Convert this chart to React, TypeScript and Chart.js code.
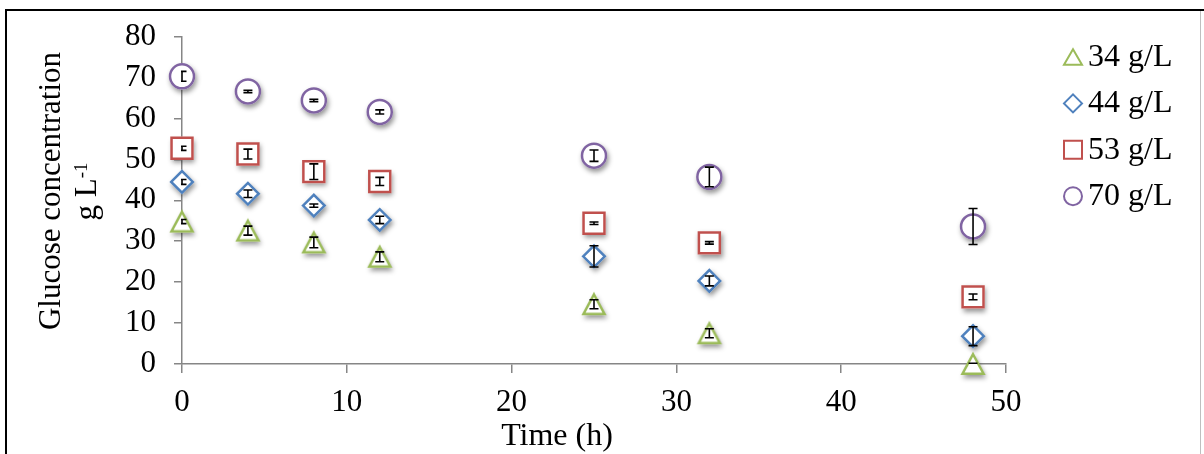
import React, { useEffect, useRef } from 'react';
import { Chart, registerables } from 'chart.js';

Chart.register(...registerables);

// ---- data ----
const times = [0, 4, 8, 12, 25, 32, 48];
const g34 = [34.8, 32.6, 29.7, 26.2, 14.6, 7.5, 0.0];
const g34Err = [0.5, 1.1, 1.3, 1.2, 1.1, 1.1, 0.2];
const g44 = [44.5, 41.6, 38.7, 35.2, 26.3, 20.3, 6.8];
const g44Err = [0.6, 0.9, 0.4, 0.9, 2.6, 1.2, 2.3];
const g53 = [52.7, 51.3, 47.0, 44.6, 34.4, 29.6, 16.4];
const g53Err = [0.5, 1.2, 1.9, 1.0, 0.3, 0.3, 0.7];
const g70 = [70.3, 66.6, 64.4, 61.6, 50.9, 45.7, 33.6];
const g70Err = [1.2, 0.3, 0.3, 0.5, 1.4, 2.4, 4.4];

const seriesLabels = ['34 g/L', '44 g/L', '53 g/L', '70 g/L'];
const seriesValues = [g34, g44, g53, g70];
const seriesErrors = [g34Err, g44Err, g53Err, g70Err];
const seriesColors = ['#9BBB59', '#4F81BD', '#C0504D', '#8064A2'];
const seriesShapes = ['triangle', 'rectRot', 'rect', 'circle'];

const xMin = 0;
const xMax = 50;
const xStep = 10;
const yMin = 0;
const yMax = 80;
const yStep = 10;

const yTitleLine1 = 'Glucose concentration';
const yTitleUnit = 'g L';
const yTitleSup = '-1';
const xTitle = 'Time (h)';

const FONT = '"Liberation Serif", "Times New Roman", serif';
const FONT_SIZE = 31;
const TITLE_SIZE = 32;
const LEGEND_SIZE = 32;
const AXIS_COLOR = '#868686';

const TRI_W = 21;
const TRI_H = 19.5;
const MARKER_LW = 2.5;

function makeTriangle(color: string, w: number, h: number, lw: number): HTMLCanvasElement {
  const c = document.createElement('canvas');
  const size = 2 * Math.ceil((Math.max(w, h) + lw * 3) / 2);
  c.width = size;
  c.height = size;
  const ctx = c.getContext('2d')!;
  const cx = size / 2;
  const cy = size / 2;
  ctx.beginPath();
  ctx.moveTo(cx, cy - h / 2);
  ctx.lineTo(cx + w / 2, cy + h / 2);
  ctx.lineTo(cx - w / 2, cy + h / 2);
  ctx.closePath();
  ctx.strokeStyle = color;
  ctx.lineWidth = lw;
  ctx.lineJoin = 'miter';
  ctx.stroke();
  return c;
}

function markerPath(ctx: CanvasRenderingContext2D, shape: string, x: number, y: number, r: number, grow: number) {
  ctx.beginPath();
  if (shape === 'triangle') {
    const w = TRI_W + grow * 2.2;
    const h = TRI_H + grow * 2;
    ctx.moveTo(x, y - h / 2);
    ctx.lineTo(x + w / 2, y + h / 2);
    ctx.lineTo(x - w / 2, y + h / 2);
    ctx.closePath();
  } else if (shape === 'rectRot') {
    const rr = r + grow * 1.4;
    ctx.moveTo(x - rr, y);
    ctx.lineTo(x, y - rr);
    ctx.lineTo(x + rr, y);
    ctx.lineTo(x, y + rr);
    ctx.closePath();
  } else if (shape === 'rect') {
    const s = r * Math.SQRT1_2 + grow;
    ctx.rect(x - s, y - s, 2 * s, 2 * s);
  } else {
    ctx.arc(x, y, r + grow, 0, Math.PI * 2);
  }
}

const framePlugin = {
  id: 'frame',
  beforeDraw(chart: any) {
    const ctx = chart.ctx;
    ctx.save();
    ctx.fillStyle = '#ffffff';
    ctx.fillRect(0, 0, chart.width, chart.height);
    ctx.restore();
  },
  afterDraw(chart: any) {
    const ctx = chart.ctx;
    ctx.save();
    ctx.strokeStyle = '#BFBFBF';
    ctx.lineWidth = 1;
    ctx.beginPath();
    ctx.moveTo(1200.5, 10);
    ctx.lineTo(1200.5, chart.height);
    ctx.stroke();
    ctx.strokeStyle = '#000000';
    ctx.lineWidth = 2;
    ctx.beginPath();
    ctx.moveTo(6, 9);
    ctx.lineTo(6, chart.height);
    ctx.moveTo(5, 10);
    ctx.lineTo(chart.width, 10);
    ctx.stroke();
    ctx.restore();
  },
};

// soft drop shadow under each marker, placed at the element positions computed by Chart.js
const shadowPlugin = {
  id: 'markerShadow',
  beforeDatasetsDraw(chart: any) {
    const ctx: CanvasRenderingContext2D = chart.ctx;
    ctx.save();
    ctx.shadowColor = 'rgba(0,0,0,0.42)';
    ctx.shadowBlur = 5;
    ctx.shadowOffsetX = 1.5;
    ctx.shadowOffsetY = 3;
    ctx.fillStyle = '#ffffff';
    chart.data.datasets.forEach((ds: any, di: number) => {
      const meta = chart.getDatasetMeta(di);
      meta.data.forEach((el: any) => {
        markerPath(ctx, seriesShapes[di], el.x, el.y, ds.pointRadius, MARKER_LW / 2);
        ctx.fill();
      });
    });
    ctx.restore();
  },
};

const errorBarPlugin = {
  id: 'errorBars',
  afterDatasetsDraw(chart: any) {
    const { ctx, chartArea } = chart;
    const xs = chart.scales.x;
    const ys = chart.scales.y;
    ctx.save();
    ctx.beginPath();
    ctx.rect(chartArea.left - 1, chartArea.top, chartArea.right - chartArea.left + 1, chartArea.bottom - chartArea.top);
    ctx.clip();
    ctx.strokeStyle = '#000000';
    ctx.lineWidth = 1.6;
    const cap = 4.5;
    seriesValues.forEach((vals, si) => {
      const errs = seriesErrors[si];
      vals.forEach((v, i) => {
        const px = xs.getPixelForValue(times[i]);
        const top = ys.getPixelForValue(v + errs[i]);
        const bot = ys.getPixelForValue(v - errs[i]);
        ctx.beginPath();
        ctx.moveTo(px, top);
        ctx.lineTo(px, bot);
        ctx.moveTo(px - cap, top);
        ctx.lineTo(px + cap, top);
        ctx.moveTo(px - cap, bot);
        ctx.lineTo(px + cap, bot);
        ctx.stroke();
      });
    });
    ctx.restore();
  },
};

function drawLegendMarker(ctx: CanvasRenderingContext2D, shape: string, color: string, x: number, y: number) {
  ctx.save();
  ctx.strokeStyle = color;
  ctx.lineWidth = 2;
  ctx.lineJoin = 'miter';
  ctx.beginPath();
  if (shape === 'triangle') {
    const w = 18;
    const h = 15.5;
    ctx.moveTo(x, y - h / 2);
    ctx.lineTo(x + w / 2, y + h / 2);
    ctx.lineTo(x - w / 2, y + h / 2);
    ctx.closePath();
  } else if (shape === 'rectRot') {
    const r = 9;
    ctx.moveTo(x - r, y);
    ctx.lineTo(x, y - r);
    ctx.lineTo(x + r, y);
    ctx.lineTo(x, y + r);
    ctx.closePath();
  } else if (shape === 'rect') {
    ctx.rect(x - 9, y - 9, 18, 18);
  } else {
    ctx.arc(x, y, 9, 0, Math.PI * 2);
  }
  ctx.stroke();
  ctx.restore();
}

const textPlugin = {
  id: 'texts',
  afterDraw(chart: any) {
    const ctx: CanvasRenderingContext2D = chart.ctx;
    ctx.save();
    ctx.fillStyle = '#000000';
    // y-axis title (rotated, two lines)
    ctx.save();
    ctx.translate(60, 191);
    ctx.rotate(-Math.PI / 2);
    ctx.font = `${FONT_SIZE}px ${FONT}`;
    ctx.textAlign = 'center';
    ctx.textBaseline = 'alphabetic';
    ctx.fillText(yTitleLine1, 0, 0);
    ctx.restore();

    ctx.save();
    ctx.translate(96, 191.5);
    ctx.rotate(-Math.PI / 2);
    ctx.textAlign = 'left';
    ctx.textBaseline = 'alphabetic';
    ctx.font = `${FONT_SIZE}px ${FONT}`;
    const wMain = ctx.measureText(yTitleUnit).width;
    ctx.font = `19px ${FONT}`;
    const wSup = ctx.measureText(yTitleSup).width;
    const start = -(wMain + wSup) / 2;
    ctx.font = `${FONT_SIZE}px ${FONT}`;
    ctx.fillText(yTitleUnit, start, 0);
    ctx.font = `19px ${FONT}`;
    ctx.fillText(yTitleSup, start + wMain, -9);
    ctx.restore();

    // x-axis title
    ctx.font = `${TITLE_SIZE}px ${FONT}`;
    ctx.textAlign = 'center';
    ctx.textBaseline = 'alphabetic';
    ctx.fillText(xTitle, 557, 445);

    // legend
    seriesLabels.forEach((label, i) => {
      const cy = 57 + i * 46.4;
      drawLegendMarker(ctx, seriesShapes[i], seriesColors[i], 1073, cy);
      ctx.font = `${LEGEND_SIZE}px ${FONT}`;
      ctx.textAlign = 'left';
      ctx.textBaseline = 'middle';
      ctx.fillStyle = '#000000';
      ctx.fillText(label, 1088, cy + 0.5);
    });
    ctx.restore();
  },
};

export default function App() {
  const canvasRef = useRef<HTMLCanvasElement | null>(null);

  useEffect(() => {
    if (!canvasRef.current) return;
    Chart.defaults.font.family = FONT;

    const pointStyleFor = (i: number): any => {
      if (seriesShapes[i] === 'triangle') return makeTriangle(seriesColors[i], TRI_W, TRI_H, MARKER_LW);
      return seriesShapes[i];
    };
    const radiusFor = (i: number) => {
      const s = seriesShapes[i];
      if (s === 'rect') return 14.8;
      if (s === 'rectRot') return 10.8;
      if (s === 'circle') return 12;
      return 12;
    };

    const datasets = seriesLabels.map((label, i) => ({
      label,
      data: times.map((t, j) => ({ x: t, y: seriesValues[i][j] })),
      showLine: false,
      pointStyle: pointStyleFor(i),
      pointRadius: radiusFor(i),
      pointHoverRadius: radiusFor(i),
      pointBorderWidth: MARKER_LW,
      pointBorderColor: seriesColors[i],
      pointBackgroundColor: 'rgba(255,255,255,0)',
      borderColor: seriesColors[i],
      backgroundColor: 'rgba(255,255,255,0)',
      clip: false as any,
    }));

    const tickFont = { family: FONT, size: FONT_SIZE };

    const chart = new Chart(canvasRef.current, {
      type: 'scatter',
      data: { datasets },
      options: {
        animation: false,
        responsive: false,
        devicePixelRatio: 1,
        events: [],
        layout: { padding: { top: 33, right: 198, bottom: 0, left: 0 } },
        plugins: {
          legend: { display: false },
          tooltip: { enabled: false },
          title: { display: false },
        },
        scales: {
          x: {
            type: 'linear',
            min: xMin,
            max: xMax,
            ticks: { stepSize: xStep, color: '#000000', font: tickFont, padding: 11, maxRotation: 0 },
            grid: { drawOnChartArea: false, drawTicks: true, tickLength: 9, color: AXIS_COLOR, lineWidth: 1.5 },
            border: { display: true, color: AXIS_COLOR, width: 1.5 },
            afterFit: (s: any) => {
              s.height = 90;
            },
          },
          y: {
            type: 'linear',
            min: yMin,
            max: yMax,
            ticks: { stepSize: yStep, color: '#000000', font: tickFont, padding: 18 },
            grid: { drawOnChartArea: false, drawTicks: true, tickLength: 8, color: AXIS_COLOR, lineWidth: 1.5 },
            border: { display: true, color: AXIS_COLOR, width: 1.5 },
            afterFit: (s: any) => {
              s.width = 182;
            },
          },
        },
      },
      plugins: [framePlugin, shadowPlugin, errorBarPlugin, textPlugin],
    });

    return () => {
      chart.destroy();
    };
  }, []);

  return (
    <div style={{ position: 'fixed', left: 0, top: 0, width: 1204, height: 454, background: '#ffffff' }}>
      <canvas ref={canvasRef} width={1204} height={454} style={{ width: 1204, height: 454, display: 'block' }} />
    </div>
  );
}
